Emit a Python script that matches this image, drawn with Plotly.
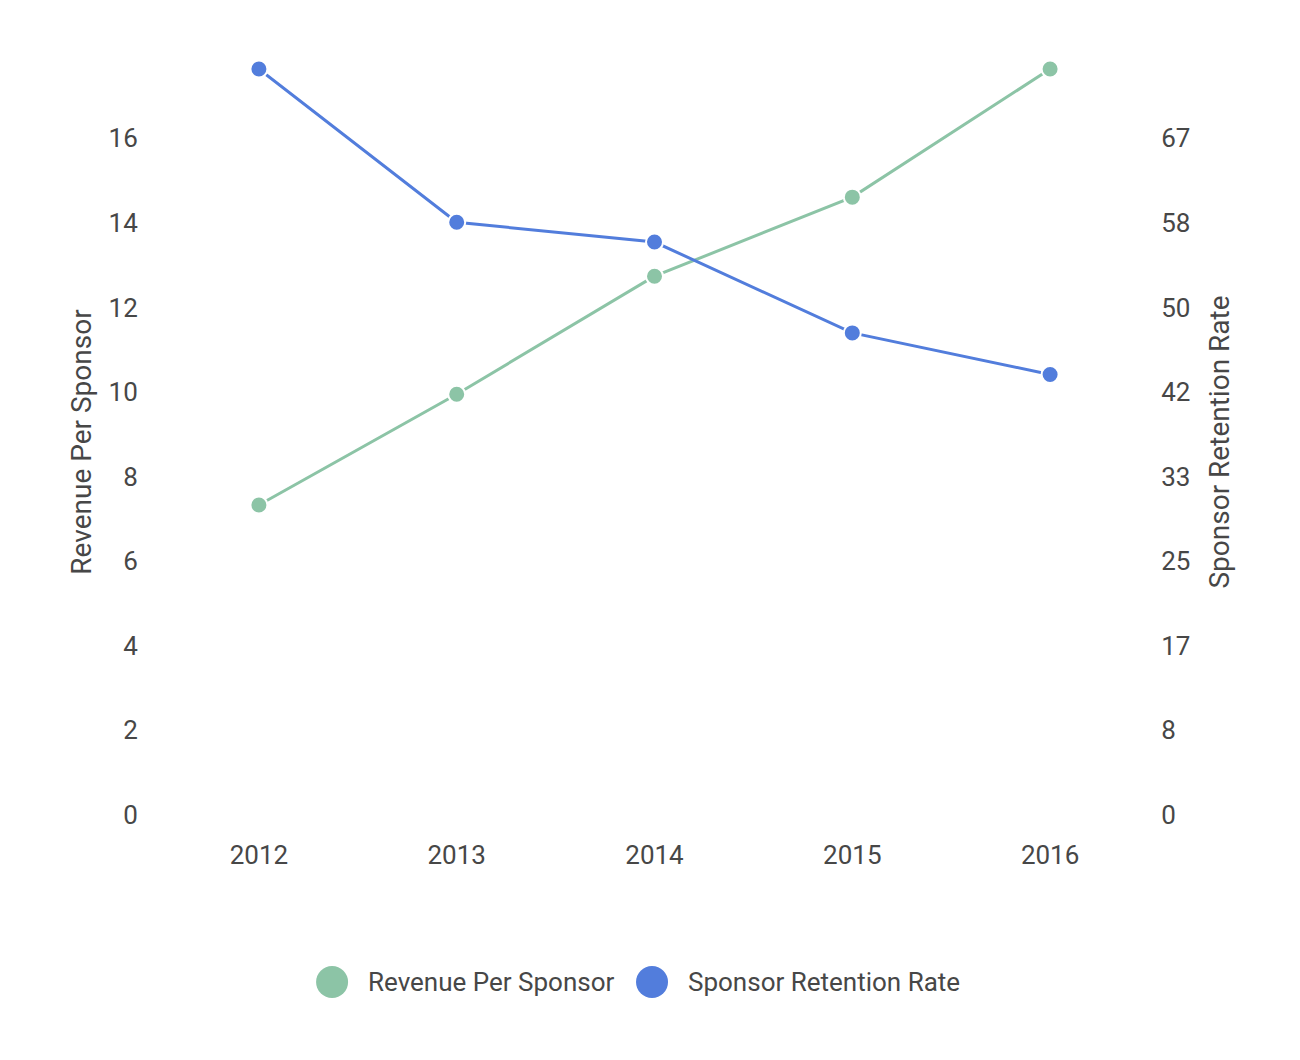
import plotly.graph_objects as go

years = ["2012", "2013", "2014", "2015", "2016"]
revenue_per_sponsor = [7.33, 9.95, 12.74, 14.61, 17.64]
sponsor_retention_rate = [73.5, 58.4, 56.45, 47.5, 43.4]
series_names = ["Revenue Per Sponsor", "Sponsor Retention Rate"]
series_colors = ["#8cc4a6", "#527ddc"]
left_ticks = [0, 2, 4, 6, 8, 10, 12, 14, 16]
right_tickvals = [0, 25/3, 50/3, 25, 100/3, 125/3, 50, 175/3, 200/3]
right_ticktext = ["0", "8", "17", "25", "33", "42", "50", "58", "67"]

FONT = "Roboto, Arial, sans-serif"
TXT = "#474747"

fig = go.Figure()
fig.add_trace(go.Scatter(
    x=years, y=revenue_per_sponsor, name=series_names[0], mode="lines+markers",
    line=dict(color=series_colors[0], width=3),
    marker=dict(size=17, color=series_colors[0], line=dict(color="white", width=2)),
    cliponaxis=False, showlegend=False, xaxis="x", yaxis="y"))
fig.add_trace(go.Scatter(
    x=years, y=sponsor_retention_rate, name=series_names[1], mode="lines+markers",
    line=dict(color=series_colors[1], width=3),
    marker=dict(size=17, color=series_colors[1], line=dict(color="white", width=2)),
    cliponaxis=False, showlegend=False, xaxis="x", yaxis="y2"))

# custom legend row
leg_x = [0.174, 0.4975]
fig.add_trace(go.Scatter(
    x=leg_x, y=[0.5, 0.5], mode="markers",
    marker=dict(size=32, color=series_colors),
    showlegend=False, hoverinfo="skip", xaxis="x3", yaxis="y3"))
for xx, nm in zip([0.2085, 0.532], series_names):
    fig.add_annotation(x=xx, y=0.5, xref="x3", yref="y3", text=nm, showarrow=False,
                       xanchor="left", yanchor="middle",
                       font=dict(family=FONT, size=26, color=TXT))

fig.update_layout(
    width=1300, height=1060,
    margin=dict(l=160, r=151, t=69, b=40),
    paper_bgcolor="white", plot_bgcolor="white",
    font=dict(family=FONT, size=26, color=TXT),
    xaxis=dict(type="category", range=[-0.5, 4.5], showgrid=False, zeroline=False,
               showline=False, ticks="outside", ticklen=17, tickcolor="rgba(0,0,0,0)",
               tickfont=dict(size=26, color=TXT), domain=[0, 1], anchor="y"),
    yaxis=dict(range=[0, 17.64], tickvals=left_ticks, showgrid=False, zeroline=False,
               showline=False, ticks="outside", ticklen=16, tickcolor="rgba(0,0,0,0)",
               domain=[0.2156, 1], tickfont=dict(size=26, color=TXT),
               title=dict(text=series_names[0], font=dict(size=28, color=TXT), standoff=8)),
    yaxis2=dict(range=[0, 73.5], tickvals=right_tickvals, ticktext=right_ticktext,
                overlaying="y", side="right", showgrid=False, zeroline=False,
                showline=False, ticks="outside", ticklen=6, tickcolor="rgba(0,0,0,0)",
                tickfont=dict(size=26, color=TXT),
                title=dict(text=series_names[1], font=dict(size=28, color=TXT), standoff=19)),
    xaxis3=dict(domain=[0, 1], range=[0, 1], visible=False, anchor="y3", fixedrange=True),
    yaxis3=dict(domain=[0, 0.08], range=[0, 1], visible=False, anchor="x3", fixedrange=True),
)

fig.write_html("out.html")
